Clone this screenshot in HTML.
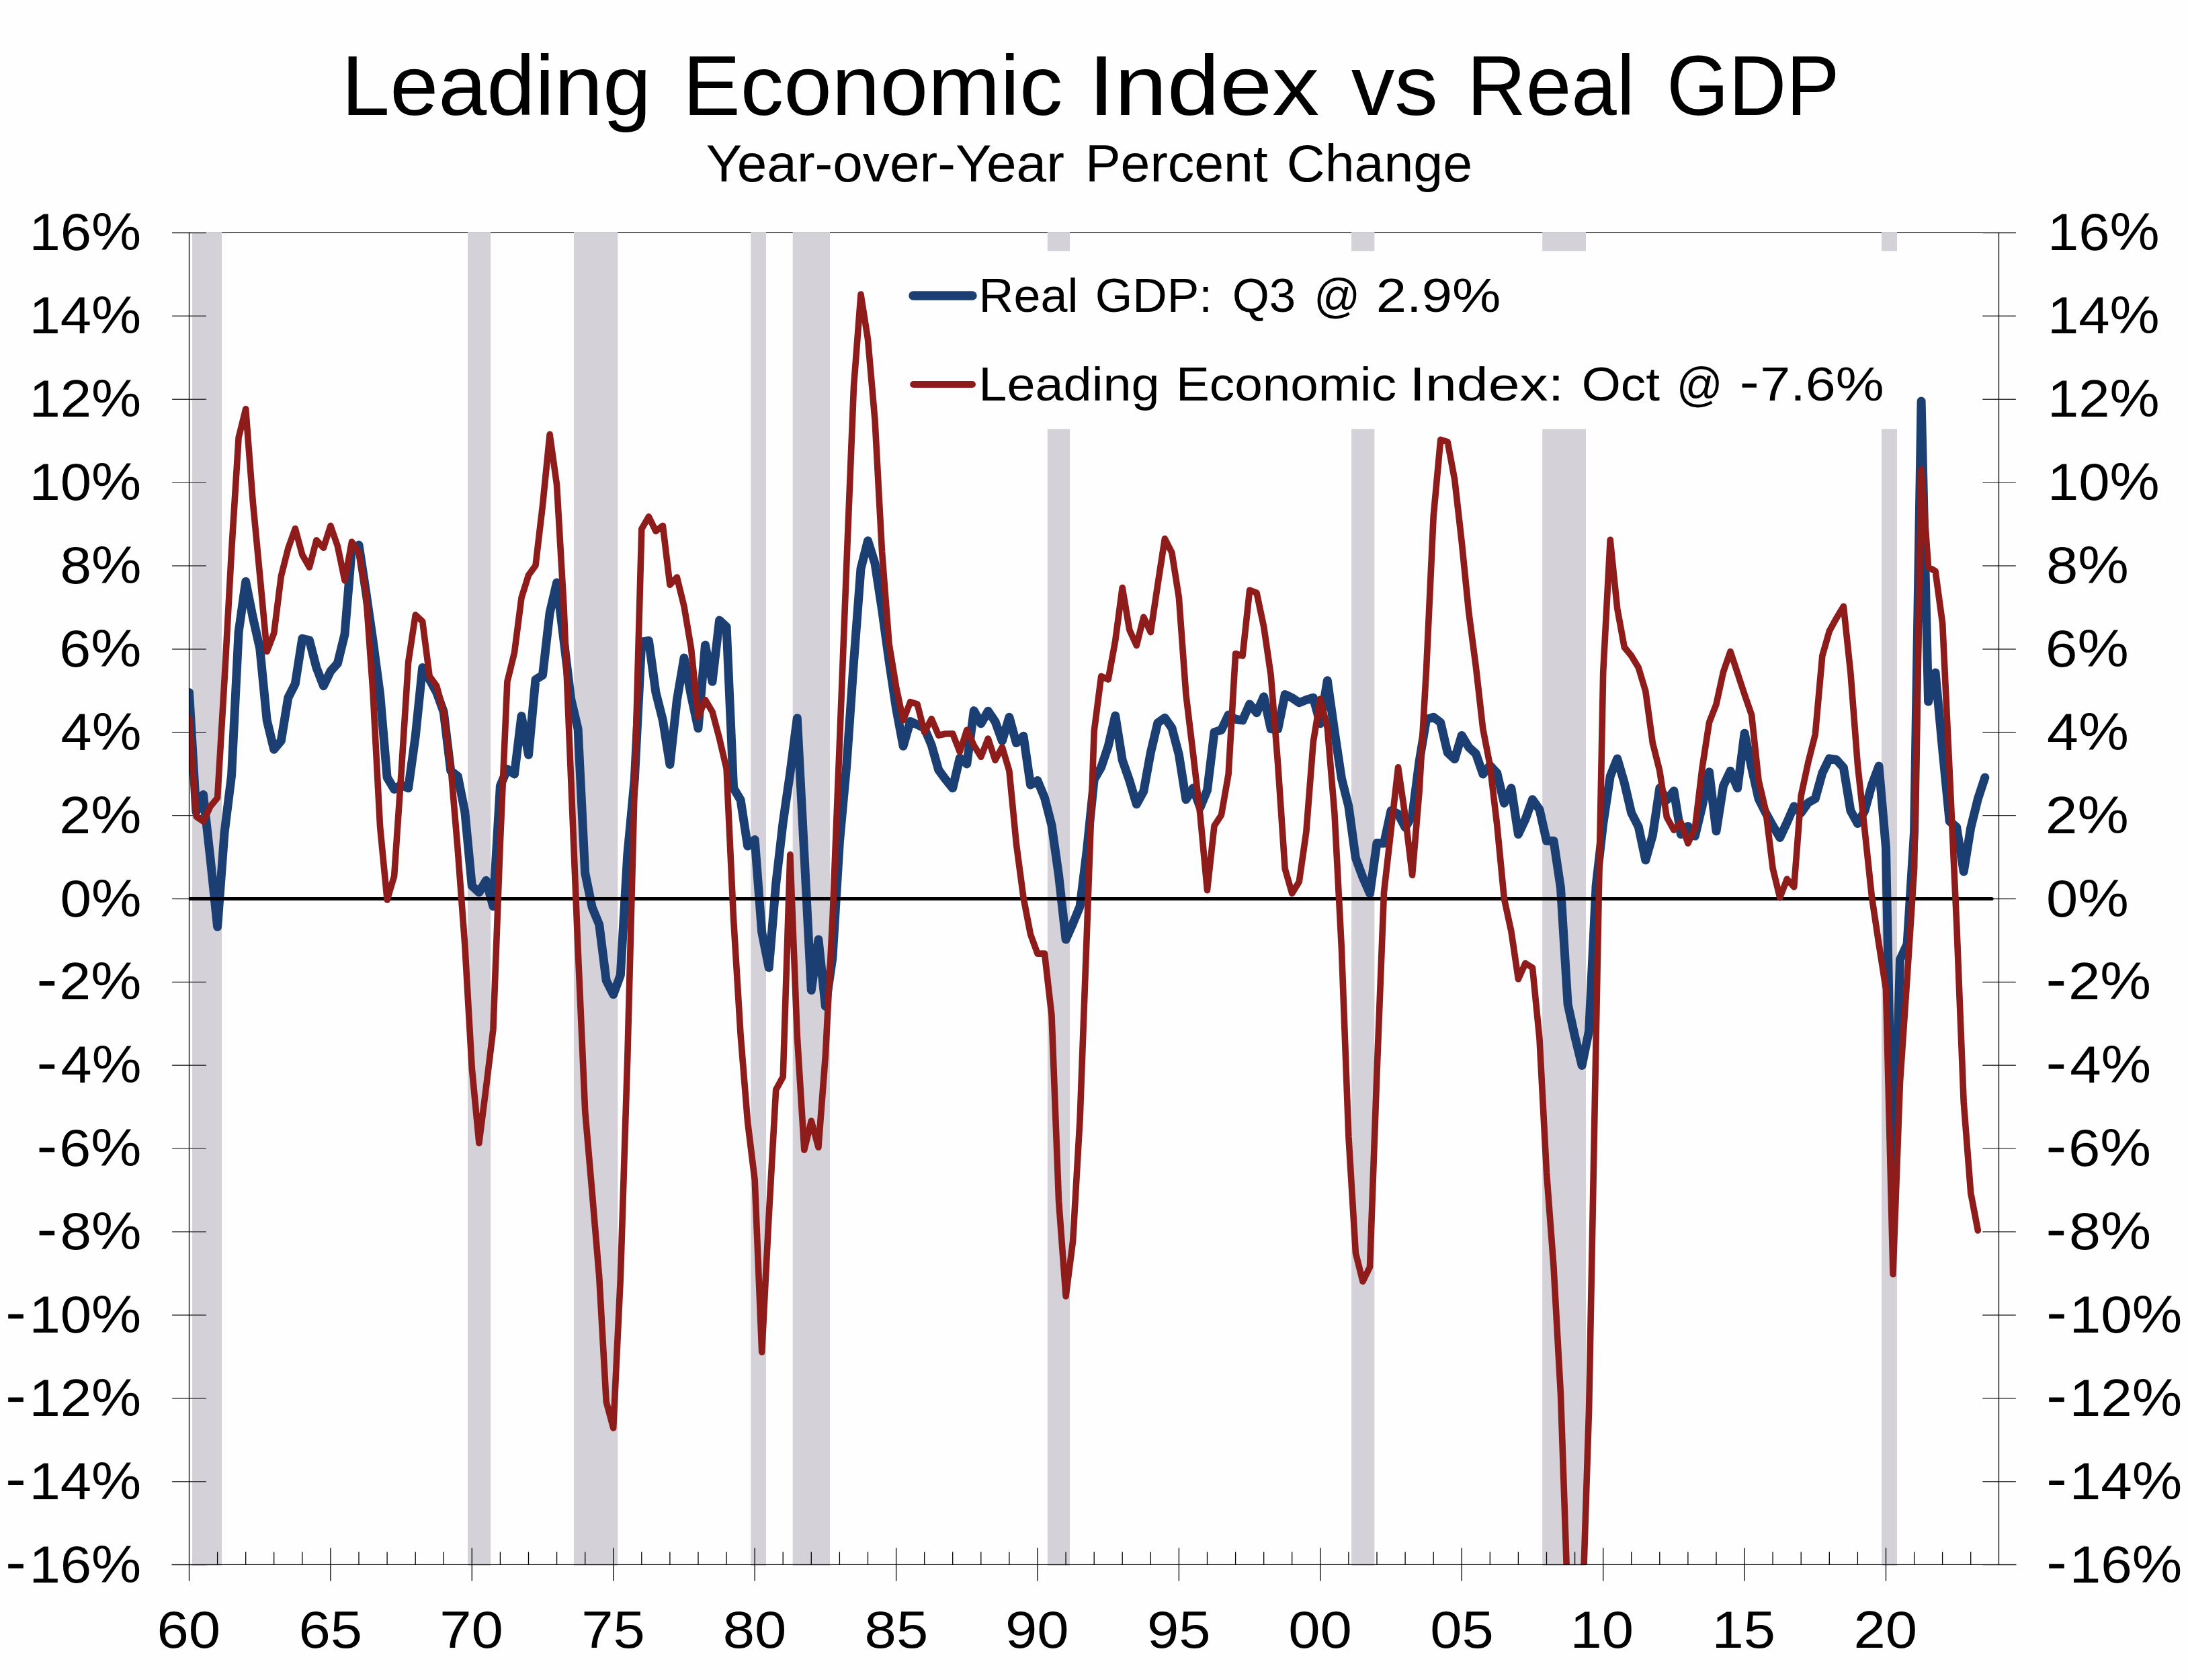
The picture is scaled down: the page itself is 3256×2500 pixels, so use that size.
<!DOCTYPE html><html><head><meta charset="utf-8"><title>Leading Economic Index vs Real GDP</title>
<style>html,body{margin:0;padding:0;background:#fff}svg{display:block}text{font-family:"Liberation Sans",sans-serif;fill:#000}</style></head><body>
<svg width="3256" height="2500" viewBox="0 0 3256 2500">
<rect width="3256" height="2500" fill="#fefefe"/>
<defs><clipPath id="plot"><rect x="281.5" y="340" width="2720" height="1988.4"/></clipPath></defs>
<g stroke="#000" stroke-width="1.3" fill="none">
<line x1="256" y1="346.3" x2="3000" y2="346.3"/>
</g>
<g fill="#d5d1d8">
<rect x="286" y="345.5" width="44.0" height="1984.5"/>
<rect x="696" y="345.5" width="34.2" height="1984.5"/>
<rect x="853.9" y="345.5" width="65.4" height="1984.5"/>
<rect x="1117.3" y="345.5" width="22.7" height="1984.5"/>
<rect x="1179.7" y="345.5" width="55.3" height="1984.5"/>
<rect x="1558.8" y="345.5" width="33.2" height="1984.5"/>
<rect x="2011.1" y="345.5" width="34.2" height="1984.5"/>
<rect x="2295.2" y="345.5" width="64.8" height="1984.5"/>
<rect x="2800" y="345.5" width="23.0" height="1984.5"/>
</g>
<rect x="1340" y="373.7" width="1492" height="264.6" fill="#fefefe"/>
<g stroke="#3a3a3a" stroke-width="1.45" fill="none" stroke-linecap="round">
<line x1="256.7" y1="346.4" x2="306.3" y2="346.4"/>
<line x1="2950.8" y1="346.4" x2="2999.3" y2="346.4"/>
<line x1="256.7" y1="470.3" x2="306.3" y2="470.3"/>
<line x1="2950.8" y1="470.3" x2="2999.3" y2="470.3"/>
<line x1="256.7" y1="594.2" x2="306.3" y2="594.2"/>
<line x1="2950.8" y1="594.2" x2="2999.3" y2="594.2"/>
<line x1="256.7" y1="718.1" x2="306.3" y2="718.1"/>
<line x1="2950.8" y1="718.1" x2="2999.3" y2="718.1"/>
<line x1="256.7" y1="842.0" x2="306.3" y2="842.0"/>
<line x1="2950.8" y1="842.0" x2="2999.3" y2="842.0"/>
<line x1="256.7" y1="965.9" x2="306.3" y2="965.9"/>
<line x1="2950.8" y1="965.9" x2="2999.3" y2="965.9"/>
<line x1="256.7" y1="1089.7" x2="306.3" y2="1089.7"/>
<line x1="2950.8" y1="1089.7" x2="2999.3" y2="1089.7"/>
<line x1="256.7" y1="1213.6" x2="306.3" y2="1213.6"/>
<line x1="2950.8" y1="1213.6" x2="2999.3" y2="1213.6"/>
<line x1="256.7" y1="1337.5" x2="306.3" y2="1337.5"/>
<line x1="2950.8" y1="1337.5" x2="2999.3" y2="1337.5"/>
<line x1="256.7" y1="1461.4" x2="306.3" y2="1461.4"/>
<line x1="2950.8" y1="1461.4" x2="2999.3" y2="1461.4"/>
<line x1="256.7" y1="1585.3" x2="306.3" y2="1585.3"/>
<line x1="2950.8" y1="1585.3" x2="2999.3" y2="1585.3"/>
<line x1="256.7" y1="1709.1" x2="306.3" y2="1709.1"/>
<line x1="2950.8" y1="1709.1" x2="2999.3" y2="1709.1"/>
<line x1="256.7" y1="1833.0" x2="306.3" y2="1833.0"/>
<line x1="2950.8" y1="1833.0" x2="2999.3" y2="1833.0"/>
<line x1="256.7" y1="1956.9" x2="306.3" y2="1956.9"/>
<line x1="2950.8" y1="1956.9" x2="2999.3" y2="1956.9"/>
<line x1="256.7" y1="2080.8" x2="306.3" y2="2080.8"/>
<line x1="2950.8" y1="2080.8" x2="2999.3" y2="2080.8"/>
<line x1="256.7" y1="2204.7" x2="306.3" y2="2204.7"/>
<line x1="2950.8" y1="2204.7" x2="2999.3" y2="2204.7"/>
<line x1="256.7" y1="2328.6" x2="306.3" y2="2328.6"/>
<line x1="2950.8" y1="2328.6" x2="2999.3" y2="2328.6"/>
</g>
<g clip-path="url(#plot)" fill="none" stroke-linejoin="round" stroke-linecap="round">
<polyline points="281.5,1030.4 292.0,1208.0 302.5,1182.4 313.1,1278.3 323.6,1379.1 334.1,1238.3 344.6,1153.6 355.1,940.7 365.7,865.5 376.2,918.3 386.7,964.7 397.2,1071.9 407.7,1115.2 418.3,1102.4 428.8,1038.3 439.3,1017.5 449.8,950.3 460.4,952.9 470.9,993.5 481.4,1020.7 491.9,998.9 502.4,987.1 513.0,943.9 523.5,815.9 534.0,811.1 544.5,879.9 555.0,953.5 565.6,1033.5 576.1,1156.8 586.6,1174.4 597.1,1168.0 607.6,1172.8 618.2,1096.0 628.7,993.5 639.2,1011.1 649.7,1030.3 660.2,1059.2 670.8,1147.2 681.3,1155.2 691.8,1208.0 702.3,1318.3 712.9,1327.9 723.4,1310.3 733.9,1348.7 744.4,1169.6 754.9,1144.6 765.5,1152.0 776.0,1065.6 786.5,1123.2 797.0,1011.2 807.5,1004.8 818.1,911.9 828.6,867.1 839.1,953.5 849.6,1040.0 860.1,1084.8 870.7,1299.1 881.2,1350.3 891.7,1375.9 902.2,1459.1 912.7,1479.9 923.3,1451.1 933.8,1271.9 944.3,1160.0 954.8,955.1 965.4,953.5 975.9,1030.3 986.4,1071.9 996.9,1137.6 1007.4,1041.6 1018.0,979.1 1028.5,1035.1 1039.0,1083.8 1049.5,959.9 1060.0,1014.3 1070.6,923.1 1081.1,932.7 1091.6,1172.8 1102.1,1190.4 1112.6,1259.1 1123.2,1249.5 1133.7,1387.1 1144.2,1439.9 1154.7,1315.1 1165.2,1223.9 1175.8,1150.4 1186.3,1068.8 1196.8,1270.3 1207.3,1473.5 1217.9,1398.3 1228.4,1497.5 1238.9,1425.5 1249.4,1252.7 1259.9,1137.6 1270.5,985.0 1281.0,846.3 1291.5,804.8 1302.0,838.3 1312.5,907.1 1323.1,983.9 1333.6,1054.3 1344.1,1110.3 1354.6,1073.5 1365.1,1078.3 1375.7,1083.7 1386.2,1108.7 1396.7,1145.6 1407.2,1160.0 1417.7,1172.8 1428.3,1128.0 1438.8,1136.9 1449.3,1057.6 1459.8,1076.8 1470.4,1058.2 1480.9,1073.6 1491.4,1102.4 1501.9,1067.2 1512.4,1105.6 1523.0,1095.3 1533.5,1168.0 1544.0,1161.6 1554.5,1187.2 1565.0,1228.0 1575.6,1303.0 1586.1,1398.0 1596.6,1374.3 1607.1,1348.7 1617.6,1263.9 1628.2,1160.0 1638.7,1141.7 1649.2,1110.4 1659.7,1065.0 1670.2,1131.2 1680.8,1161.6 1691.3,1196.8 1701.8,1177.6 1712.3,1120.0 1722.8,1075.8 1733.4,1068.2 1743.9,1083.2 1754.4,1123.2 1764.9,1189.7 1775.5,1172.8 1786.0,1201.6 1796.5,1176.0 1807.0,1089.6 1817.5,1086.3 1828.1,1063.9 1838.6,1070.3 1849.1,1071.9 1859.6,1047.9 1870.1,1060.7 1880.7,1036.7 1891.2,1084.7 1901.7,1084.7 1912.2,1033.5 1922.7,1038.3 1933.3,1045.7 1943.8,1041.5 1954.3,1038.3 1964.8,1076.7 1975.3,1012.7 1985.9,1088.0 1996.4,1158.4 2006.9,1200.0 2017.4,1276.7 2028.0,1305.5 2038.5,1329.5 2049.0,1254.4 2059.5,1255.0 2070.0,1206.4 2080.6,1211.2 2091.1,1231.3 2101.6,1214.4 2112.1,1132.8 2122.6,1070.4 2133.2,1067.2 2143.7,1075.2 2154.2,1120.0 2164.7,1129.6 2175.2,1094.4 2185.8,1112.0 2196.3,1121.6 2206.8,1152.0 2217.3,1139.2 2227.8,1150.4 2238.4,1195.2 2248.9,1172.8 2259.4,1241.6 2269.9,1219.2 2280.5,1189.7 2291.0,1204.8 2301.5,1251.2 2312.0,1251.2 2322.5,1321.5 2333.1,1494.3 2343.6,1542.3 2354.1,1585.5 2364.6,1534.3 2375.1,1318.3 2385.7,1225.6 2396.2,1155.2 2406.7,1128.9 2417.2,1164.8 2427.7,1209.6 2438.3,1230.4 2448.8,1279.9 2459.3,1243.2 2469.8,1172.8 2480.3,1190.4 2490.9,1176.9 2501.4,1241.6 2511.9,1229.4 2522.4,1244.1 2533.0,1200.0 2543.5,1148.8 2554.0,1236.8 2564.5,1169.6 2575.0,1147.2 2585.6,1172.8 2596.1,1091.2 2606.6,1142.4 2617.1,1188.8 2627.6,1209.6 2638.2,1228.8 2648.7,1246.4 2659.2,1224.0 2669.7,1200.0 2680.2,1209.6 2690.8,1194.5 2701.3,1188.4 2711.8,1150.4 2722.3,1128.9 2732.8,1130.5 2743.4,1142.4 2753.9,1206.4 2764.4,1225.6 2774.9,1206.4 2785.5,1168.0 2796.0,1140.0 2806.5,1262.0 2817.0,1802.0 2827.5,1428.0 2838.1,1405.0 2848.6,1238.0 2859.1,597.0 2869.6,1044.0 2880.1,1001.0 2890.7,1115.0 2901.2,1222.0 2911.7,1231.0 2922.2,1297.0 2932.7,1232.0 2943.3,1189.0 2953.8,1157.0" stroke="#1c3f73" stroke-width="13"/>
<line x1="281.5" y1="1337.5" x2="2964.2" y2="1337.5" stroke="#000" stroke-width="5"/>
<polyline points="281.5,1068.8 292.0,1215.0 302.5,1222.4 313.1,1200.0 323.6,1187.2 334.1,1010.6 344.6,819.1 355.1,651.2 365.7,608.6 376.2,745.6 386.7,855.9 397.2,969.5 407.7,942.3 418.3,857.5 428.8,815.9 439.3,786.5 449.8,825.5 460.4,844.1 470.9,803.8 481.4,815.3 491.9,782.4 502.4,812.7 513.0,863.9 523.5,806.3 534.0,822.3 544.5,883.1 555.0,1030.3 565.6,1230.3 576.1,1339.1 586.6,1303.9 597.1,1150.4 607.6,985.5 618.2,915.1 628.7,924.7 639.2,1006.3 649.7,1020.7 660.2,1059.1 670.8,1140.8 681.3,1265.5 691.8,1406.3 702.3,1590.0 712.9,1701.0 723.4,1618.0 733.9,1532.0 744.4,1252.7 754.9,1014.4 765.5,971.1 776.0,889.5 786.5,855.9 797.0,841.5 807.5,752.0 818.1,646.4 828.6,721.6 839.1,903.3 849.6,1156.8 860.1,1412.7 870.7,1653.6 881.2,1775.1 891.7,1900.0 902.2,2086.0 912.7,2125.0 923.3,1903.0 933.8,1573.0 944.3,1170.0 954.8,787.2 965.4,768.9 975.9,790.4 986.4,782.4 996.9,870.3 1007.4,859.1 1018.0,902.3 1028.5,964.7 1039.0,1067.1 1049.5,1041.5 1060.0,1059.1 1070.6,1099.1 1081.1,1144.0 1091.6,1367.9 1102.1,1540.0 1112.6,1669.6 1123.2,1755.9 1133.7,2012.0 1144.2,1808.7 1154.7,1621.6 1165.2,1602.4 1175.8,1271.9 1186.3,1541.6 1196.8,1711.2 1207.3,1668.0 1217.9,1707.3 1228.4,1570.4 1238.9,1367.9 1249.4,1105.6 1259.9,837.4 1270.5,575.0 1281.0,438.0 1291.5,505.0 1302.0,625.0 1312.5,820.8 1323.1,958.3 1333.6,1022.3 1344.1,1071.9 1354.6,1044.7 1365.1,1047.9 1375.7,1089.5 1386.2,1069.7 1396.7,1094.3 1407.2,1092.0 1417.7,1091.7 1428.3,1118.9 1438.8,1086.3 1449.3,1109.3 1459.8,1126.3 1470.4,1099.1 1480.9,1131.1 1491.4,1111.9 1501.9,1147.2 1512.4,1255.9 1523.0,1335.9 1533.5,1390.3 1544.0,1419.1 1554.5,1419.1 1565.0,1511.0 1575.6,1788.0 1586.1,1929.0 1596.6,1847.0 1607.1,1665.0 1617.6,1382.3 1628.2,1087.9 1638.7,1006.3 1649.2,1011.1 1659.7,953.5 1670.2,874.5 1680.8,937.5 1691.3,960.6 1701.8,918.3 1712.3,940.7 1722.8,870.3 1733.4,801.6 1743.9,822.4 1754.4,889.5 1764.9,1033.5 1775.5,1121.6 1786.0,1212.8 1796.5,1324.7 1807.0,1228.8 1817.5,1212.8 1828.1,1152.0 1838.6,972.7 1849.1,975.9 1859.6,878.3 1870.1,882.2 1880.7,932.7 1891.2,1004.7 1901.7,1137.6 1912.2,1292.7 1922.7,1329.5 1933.3,1311.9 1943.8,1238.4 1954.3,1104.0 1964.8,1040.0 1975.3,1083.2 1985.9,1209.6 1996.4,1411.1 2006.9,1692.0 2017.4,1864.7 2028.0,1907.0 2038.5,1885.5 2049.0,1596.0 2059.5,1327.9 2070.0,1235.2 2080.6,1141.7 2091.1,1214.4 2101.6,1302.3 2112.1,1177.6 2122.6,995.1 2133.2,768.0 2143.7,654.4 2154.2,657.6 2164.7,713.6 2175.2,806.4 2185.8,911.9 2196.3,991.9 2206.8,1084.7 2217.3,1139.2 2227.8,1228.0 2238.4,1337.5 2248.9,1386.0 2259.4,1457.0 2269.9,1433.5 2280.5,1440.0 2291.0,1546.0 2301.5,1745.0 2312.0,1885.0 2322.5,2075.0 2333.1,2386.0 2343.6,2560.0 2354.1,2423.0 2364.6,2097.0 2375.1,1545.0 2385.7,1000.0 2396.2,803.2 2406.7,905.5 2417.2,963.1 2427.7,975.9 2438.3,993.5 2448.8,1028.7 2459.3,1105.5 2469.8,1147.2 2480.3,1216.0 2490.9,1235.2 2501.4,1224.0 2511.9,1255.0 2522.4,1232.0 2533.0,1143.0 2543.5,1075.1 2554.0,1047.9 2564.5,999.9 2575.0,969.5 2585.6,1001.5 2596.1,1033.5 2606.6,1063.9 2617.1,1161.6 2627.6,1206.4 2638.2,1292.7 2648.7,1335.9 2659.2,1308.1 2669.7,1319.9 2680.2,1184.0 2690.8,1134.4 2701.3,1092.8 2711.8,975.9 2722.3,939.1 2732.8,919.9 2743.4,902.3 2753.9,1001.5 2764.4,1138.0 2774.9,1235.0 2785.5,1335.0 2796.0,1405.0 2806.5,1472.0 2817.0,1896.0 2827.5,1610.0 2838.1,1455.0 2848.6,1293.0 2859.1,699.0 2869.6,844.0 2880.1,850.0 2890.7,928.0 2901.2,1148.0 2911.7,1375.0 2922.2,1640.0 2932.7,1775.0 2943.3,1831.0" stroke="#8e1c1b" stroke-width="9.6"/>
</g>
<g stroke="#000" stroke-width="1.3" fill="none" stroke-linecap="round">
<line x1="256" y1="2328.4" x2="3000" y2="2328.4"/>
<line x1="281.5" y1="346.3" x2="281.5" y2="2352.2"/>
<line x1="2974.5" y1="346.3" x2="2974.5" y2="2328.4"/>
<line x1="323.6" y1="2309.9" x2="323.6" y2="2328.4"/>
<line x1="365.7" y1="2309.9" x2="365.7" y2="2328.4"/>
<line x1="407.7" y1="2309.9" x2="407.7" y2="2328.4"/>
<line x1="449.8" y1="2309.9" x2="449.8" y2="2328.4"/>
<line x1="491.9" y1="2303.8" x2="491.9" y2="2352.2"/>
<line x1="534.0" y1="2309.9" x2="534.0" y2="2328.4"/>
<line x1="576.1" y1="2309.9" x2="576.1" y2="2328.4"/>
<line x1="618.2" y1="2309.9" x2="618.2" y2="2328.4"/>
<line x1="660.2" y1="2309.9" x2="660.2" y2="2328.4"/>
<line x1="702.3" y1="2303.8" x2="702.3" y2="2352.2"/>
<line x1="744.4" y1="2309.9" x2="744.4" y2="2328.4"/>
<line x1="786.5" y1="2309.9" x2="786.5" y2="2328.4"/>
<line x1="828.6" y1="2309.9" x2="828.6" y2="2328.4"/>
<line x1="870.7" y1="2309.9" x2="870.7" y2="2328.4"/>
<line x1="912.7" y1="2303.8" x2="912.7" y2="2352.2"/>
<line x1="954.8" y1="2309.9" x2="954.8" y2="2328.4"/>
<line x1="996.9" y1="2309.9" x2="996.9" y2="2328.4"/>
<line x1="1039.0" y1="2309.9" x2="1039.0" y2="2328.4"/>
<line x1="1081.1" y1="2309.9" x2="1081.1" y2="2328.4"/>
<line x1="1123.2" y1="2303.8" x2="1123.2" y2="2352.2"/>
<line x1="1165.2" y1="2309.9" x2="1165.2" y2="2328.4"/>
<line x1="1207.3" y1="2309.9" x2="1207.3" y2="2328.4"/>
<line x1="1249.4" y1="2309.9" x2="1249.4" y2="2328.4"/>
<line x1="1291.5" y1="2309.9" x2="1291.5" y2="2328.4"/>
<line x1="1333.6" y1="2303.8" x2="1333.6" y2="2352.2"/>
<line x1="1375.7" y1="2309.9" x2="1375.7" y2="2328.4"/>
<line x1="1417.7" y1="2309.9" x2="1417.7" y2="2328.4"/>
<line x1="1459.8" y1="2309.9" x2="1459.8" y2="2328.4"/>
<line x1="1501.9" y1="2309.9" x2="1501.9" y2="2328.4"/>
<line x1="1544.0" y1="2303.8" x2="1544.0" y2="2352.2"/>
<line x1="1586.1" y1="2309.9" x2="1586.1" y2="2328.4"/>
<line x1="1628.2" y1="2309.9" x2="1628.2" y2="2328.4"/>
<line x1="1670.2" y1="2309.9" x2="1670.2" y2="2328.4"/>
<line x1="1712.3" y1="2309.9" x2="1712.3" y2="2328.4"/>
<line x1="1754.4" y1="2303.8" x2="1754.4" y2="2352.2"/>
<line x1="1796.5" y1="2309.9" x2="1796.5" y2="2328.4"/>
<line x1="1838.6" y1="2309.9" x2="1838.6" y2="2328.4"/>
<line x1="1880.7" y1="2309.9" x2="1880.7" y2="2328.4"/>
<line x1="1922.7" y1="2309.9" x2="1922.7" y2="2328.4"/>
<line x1="1964.8" y1="2303.8" x2="1964.8" y2="2352.2"/>
<line x1="2006.9" y1="2309.9" x2="2006.9" y2="2328.4"/>
<line x1="2049.0" y1="2309.9" x2="2049.0" y2="2328.4"/>
<line x1="2091.1" y1="2309.9" x2="2091.1" y2="2328.4"/>
<line x1="2133.2" y1="2309.9" x2="2133.2" y2="2328.4"/>
<line x1="2175.2" y1="2303.8" x2="2175.2" y2="2352.2"/>
<line x1="2217.3" y1="2309.9" x2="2217.3" y2="2328.4"/>
<line x1="2259.4" y1="2309.9" x2="2259.4" y2="2328.4"/>
<line x1="2301.5" y1="2309.9" x2="2301.5" y2="2328.4"/>
<line x1="2343.6" y1="2309.9" x2="2343.6" y2="2328.4"/>
<line x1="2385.7" y1="2303.8" x2="2385.7" y2="2352.2"/>
<line x1="2427.7" y1="2309.9" x2="2427.7" y2="2328.4"/>
<line x1="2469.8" y1="2309.9" x2="2469.8" y2="2328.4"/>
<line x1="2511.9" y1="2309.9" x2="2511.9" y2="2328.4"/>
<line x1="2554.0" y1="2309.9" x2="2554.0" y2="2328.4"/>
<line x1="2596.1" y1="2303.8" x2="2596.1" y2="2352.2"/>
<line x1="2638.1" y1="2309.9" x2="2638.1" y2="2328.4"/>
<line x1="2680.2" y1="2309.9" x2="2680.2" y2="2328.4"/>
<line x1="2722.3" y1="2309.9" x2="2722.3" y2="2328.4"/>
<line x1="2764.4" y1="2309.9" x2="2764.4" y2="2328.4"/>
<line x1="2806.5" y1="2303.8" x2="2806.5" y2="2352.2"/>
<line x1="2848.6" y1="2309.9" x2="2848.6" y2="2328.4"/>
<line x1="2890.6" y1="2309.9" x2="2890.6" y2="2328.4"/>
<line x1="2932.7" y1="2309.9" x2="2932.7" y2="2328.4"/>
</g>
<line x1="1359" y1="440" x2="1447" y2="440" stroke="#1c3f73" stroke-width="13.5" stroke-linecap="round"/>
<line x1="1359.2" y1="572" x2="1447" y2="572" stroke="#8e1c1b" stroke-width="10" stroke-linecap="round"/>
<rect x="2592.6" y="570.7" width="21.3" height="6.0" fill="#000"/>
<rect x="58.6" y="1460.1" width="22.6" height="6.6" fill="#000"/>
<rect x="3048.6" y="1460.1" width="22.6" height="6.6" fill="#000"/>
<rect x="58.6" y="1584.0" width="22.6" height="6.6" fill="#000"/>
<rect x="3048.6" y="1584.0" width="22.6" height="6.6" fill="#000"/>
<rect x="58.6" y="1707.8" width="22.6" height="6.6" fill="#000"/>
<rect x="3048.6" y="1707.8" width="22.6" height="6.6" fill="#000"/>
<rect x="58.6" y="1831.7" width="22.6" height="6.6" fill="#000"/>
<rect x="3048.6" y="1831.7" width="22.6" height="6.6" fill="#000"/>
<rect x="12.2" y="1955.6" width="22.6" height="6.6" fill="#000"/>
<rect x="3049.2" y="1955.6" width="22.6" height="6.6" fill="#000"/>
<rect x="12.2" y="2079.5" width="22.6" height="6.6" fill="#000"/>
<rect x="3049.2" y="2079.5" width="22.6" height="6.6" fill="#000"/>
<rect x="12.2" y="2203.4" width="22.6" height="6.6" fill="#000"/>
<rect x="3049.2" y="2203.4" width="22.6" height="6.6" fill="#000"/>
<rect x="12.2" y="2327.2" width="22.6" height="6.6" fill="#000"/>
<rect x="3049.2" y="2327.2" width="22.6" height="6.6" fill="#000"/>
<text transform="translate(508.12,171.3) scale(1.0277,1)" font-size="126">Leading</text>
<text transform="translate(1015.88,171.3) scale(1.0224,1)" font-size="126">Economic</text>
<text transform="translate(1619.51,171.3) scale(1.1156,1)" font-size="126">Index</text>
<text transform="translate(2010.78,171.3) scale(1.0242,1)" font-size="126">vs</text>
<text transform="translate(2183.06,171.3) scale(0.9639,1)" font-size="126">Real</text>
<text transform="translate(2480.15,171.3) scale(0.9419,1)" font-size="126">GDP</text>
<text transform="translate(1050.64,270.3) scale(1.0277,1)" font-size="78">Year-over-Year</text>
<text transform="translate(1615.03,270.3) scale(1.0111,1)" font-size="78">Percent</text>
<text transform="translate(1914.75,270.3) scale(1.0113,1)" font-size="78">Change</text>
<text transform="translate(1456.62,463.9) scale(1.0126,1)" font-size="71">Real</text>
<text transform="translate(1629.78,463.9) scale(1.0049,1)" font-size="71">GDP:</text>
<text transform="translate(1833.70,463.9) scale(0.9989,1)" font-size="71">Q3</text>
<text transform="translate(1955.26,463.9) scale(0.9567,1)" font-size="71">@</text>
<text transform="translate(2047.81,463.9) scale(1.1465,1)" font-size="71">2.9%</text>
<text transform="translate(1456.30,595.6) scale(1.0665,1)" font-size="71">Leading</text>
<text transform="translate(1749.99,595.6) scale(1.0523,1)" font-size="71">Economic</text>
<text transform="translate(2097.59,595.6) scale(1.1872,1)" font-size="71">Index:</text>
<text transform="translate(2353.74,595.6) scale(1.0523,1)" font-size="71">Oct</text>
<text transform="translate(2494.86,595.6) scale(0.9567,1)" font-size="71">@</text>
<text transform="translate(2619.24,595.6) scale(1.1394,1)" font-size="71">7.6%</text>
<text transform="translate(43.41,372.4) scale(1.0821,1)" font-size="77">16%</text>
<text transform="translate(3046.91,372.4) scale(1.0821,1)" font-size="77">16%</text>
<text transform="translate(43.41,496.3) scale(1.0821,1)" font-size="77">14%</text>
<text transform="translate(3046.91,496.3) scale(1.0821,1)" font-size="77">14%</text>
<text transform="translate(43.41,620.2) scale(1.0821,1)" font-size="77">12%</text>
<text transform="translate(3046.91,620.2) scale(1.0821,1)" font-size="77">12%</text>
<text transform="translate(43.41,744.1) scale(1.0821,1)" font-size="77">10%</text>
<text transform="translate(3046.91,744.1) scale(1.0821,1)" font-size="77">10%</text>
<text transform="translate(89.44,868.0) scale(1.0867,1)" font-size="77">8%</text>
<text transform="translate(3044.99,868.0) scale(1.1038,1)" font-size="77">8%</text>
<text transform="translate(88.31,991.9) scale(1.0971,1)" font-size="77">6%</text>
<text transform="translate(3043.84,991.9) scale(1.1144,1)" font-size="77">6%</text>
<text transform="translate(90.55,1115.7) scale(1.0764,1)" font-size="77">4%</text>
<text transform="translate(3046.11,1115.7) scale(1.0934,1)" font-size="77">4%</text>
<text transform="translate(88.31,1239.6) scale(1.0971,1)" font-size="77">2%</text>
<text transform="translate(3043.84,1239.6) scale(1.1144,1)" font-size="77">2%</text>
<text transform="translate(89.44,1363.5) scale(1.0867,1)" font-size="77">0%</text>
<text transform="translate(3044.99,1363.5) scale(1.1038,1)" font-size="77">0%</text>
<text transform="translate(88.31,1487.4) scale(1.0971,1)" font-size="77">2%</text>
<text transform="translate(3077.97,1487.4) scale(1.1067,1)" font-size="77">2%</text>
<text transform="translate(90.55,1611.3) scale(1.0764,1)" font-size="77">4%</text>
<text transform="translate(3080.23,1611.3) scale(1.0858,1)" font-size="77">4%</text>
<text transform="translate(88.31,1735.1) scale(1.0971,1)" font-size="77">6%</text>
<text transform="translate(3077.97,1735.1) scale(1.1067,1)" font-size="77">6%</text>
<text transform="translate(89.44,1859.0) scale(1.0867,1)" font-size="77">8%</text>
<text transform="translate(3079.11,1859.0) scale(1.0962,1)" font-size="77">8%</text>
<text transform="translate(43.41,1982.9) scale(1.0821,1)" font-size="77">10%</text>
<text transform="translate(3079.67,1982.9) scale(1.0876,1)" font-size="77">10%</text>
<text transform="translate(43.41,2106.8) scale(1.0821,1)" font-size="77">12%</text>
<text transform="translate(3079.67,2106.8) scale(1.0876,1)" font-size="77">12%</text>
<text transform="translate(43.41,2230.7) scale(1.0821,1)" font-size="77">14%</text>
<text transform="translate(3079.67,2230.7) scale(1.0876,1)" font-size="77">14%</text>
<text transform="translate(43.41,2354.6) scale(1.0821,1)" font-size="77">16%</text>
<text transform="translate(3079.67,2354.6) scale(1.0876,1)" font-size="77">16%</text>
<text transform="translate(233.43,2451.6) scale(1.105,1)" font-size="77">60</text>
<text transform="translate(444.40,2451.6) scale(1.105,1)" font-size="77">65</text>
<text transform="translate(654.26,2451.6) scale(1.105,1)" font-size="77">70</text>
<text transform="translate(865.23,2451.6) scale(1.105,1)" font-size="77">75</text>
<text transform="translate(1075.64,2451.6) scale(1.105,1)" font-size="77">80</text>
<text transform="translate(1286.61,2451.6) scale(1.105,1)" font-size="77">85</text>
<text transform="translate(1495.92,2451.6) scale(1.105,1)" font-size="77">90</text>
<text transform="translate(1706.89,2451.6) scale(1.105,1)" font-size="77">95</text>
<text transform="translate(1917.30,2451.6) scale(1.105,1)" font-size="77">00</text>
<text transform="translate(2128.27,2451.6) scale(1.105,1)" font-size="77">05</text>
<text transform="translate(2336.48,2451.6) scale(1.105,1)" font-size="77">10</text>
<text transform="translate(2547.45,2451.6) scale(1.105,1)" font-size="77">15</text>
<text transform="translate(2758.41,2451.6) scale(1.105,1)" font-size="77">20</text>
</svg></body></html>
